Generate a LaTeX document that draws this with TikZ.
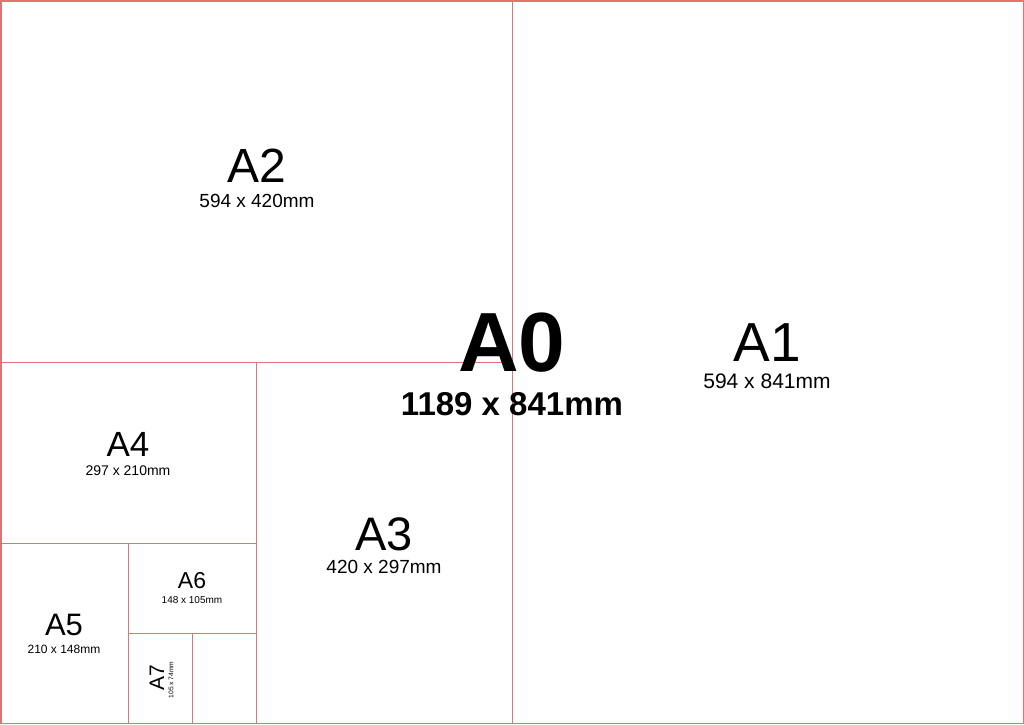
\documentclass[tikz,border=0pt]{standalone}
\usepackage{fontspec}
\setmainfont{Liberation Sans}
\definecolor{cutline}{RGB}{232,112,112}

\begin{document}
\begin{tikzpicture}[x=1pt,y=-1pt,
    cut/.style={draw=cutline,line width=0.9pt},
    lbl/.style={inner sep=0pt,anchor=center}]
    \useasboundingbox (0,0) rectangle (1024,724);
    \fill[white] (0,0) rectangle (1024,724);
    % sheet edges and folds
    \draw[cut] (0.8,0.8) rectangle (1023.5,723.5);
    \draw[cut,line width=1.6pt] (0.8,724) -- (0.8,0.8) -- (1024,0.8);
    \draw[cut] (512,0) -- (512,724);
    \draw[cut] (0,362) -- (512,362);
    \draw[cut] (256,362) -- (256,724);
    \draw[cut] (0,543) -- (256,543);
    \draw[cut] (128,543) -- (128,724);
    \draw[cut] (128,633) -- (256,633);
    \draw[cut] (192,633) -- (192,724);
    % sheet names and sizes
    \node[lbl,font=\fontsize{84}{84}\selectfont\bfseries] (a0) at (512,343) {A0};
    \node[lbl,font=\fontsize{33}{33}\selectfont\bfseries] (d0) at (512,404) {1189 x 841mm};
    \foreach \n/\x/\y/\s/\d/\sy/\ss in {1/767/343/55/594 x 841mm/381/21,
        2/257/166/48/594 x 420mm/201/19,
        3/384/534/47/420 x 297mm/567/19,
        4/128/444.5/35/297 x 210mm/471/14,
        5/64/625/31/210 x 148mm/649.5/12,
        6/192/581/23/148 x 105mm/600.5/10}
    {
        \node[lbl,font=\fontsize{\s}{\s}\selectfont] (a\n) at (\x,\y) {A\n};
        \node[lbl,font=\fontsize{\ss}{\ss}\selectfont] (d\n) at (\x,\sy) {\d};
    }
    \node[lbl,rotate=90,font=\fontsize{21}{21}\selectfont] (a7) at (157,678) {A7};
    \node[lbl,rotate=90,font=\fontsize{6.7}{6.7}\selectfont] (d7) at (171,680) {105 x 74mm};
\end{tikzpicture}
\end{document}
